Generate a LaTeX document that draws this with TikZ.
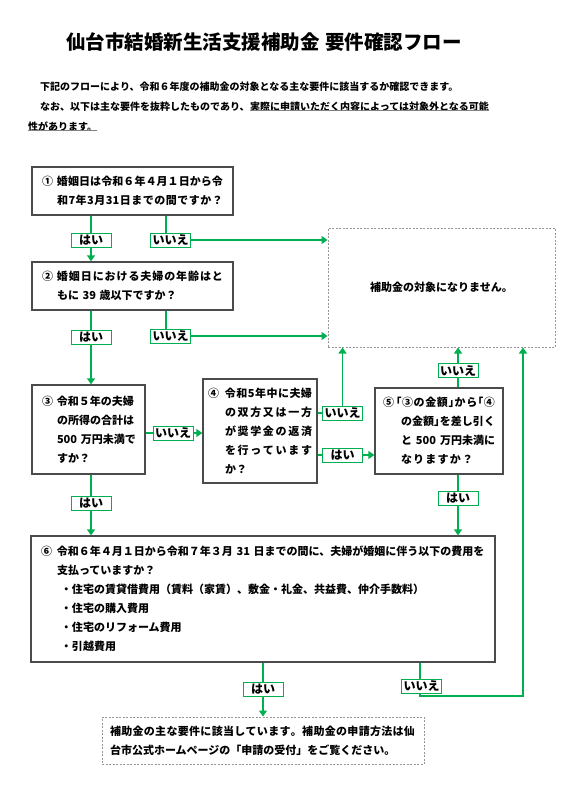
\documentclass[tikz,border=0pt]{standalone}
\usepackage{fontspec}
\setmainfont{Noto Sans CJK JP}
\newfontfamily\jph{Noto Sans CJK JP}[RawFeature=+halt]
\usetikzlibrary{arrows.meta}
\definecolor{grn}{RGB}{0,176,80}
\definecolor{bord}{RGB}{75,75,75}
\definecolor{dashc}{RGB}{150,150,150}
\definecolor{ulc}{RGB}{130,130,130}
\makeatletter
\newcommand\jl[2]{\leavevmode\hbox to #1{\@tempswafalse\@tfor\jx:=#2\do{\if@tempswa\hfil\fi\@tempswatrue\jx}}}
\makeatother
\newcommand\jnum[2]{\leavevmode\makebox[#1][l]{#2}}
\newcommand\jind[1]{\leavevmode\hspace*{#1}}
\newcommand\hlq{{\jph 「}}
\newcommand\hrq{{\jph 」}}
\tikzset{
  qbox/.style={draw=bord, line width=1.3pt, rectangle, inner ysep=0pt, align=left,
    font=\fontsize{11pt}{19pt}\selectfont\bfseries},
  dbox/.style={draw=dashc, line width=1pt, dash pattern=on 2pt off 1.5pt, rectangle,
    inner ysep=0pt, align=left, font=\fontsize{11pt}{19pt}\selectfont\bfseries},
  lab/.style={draw=grn, line width=1pt, fill=white, minimum width=40pt, minimum height=14pt,
    inner sep=0pt, font=\fontsize{12pt}{12pt}\selectfont\bfseries},
  para/.style={inner sep=0pt, anchor=west, font=\fontsize{10pt}{12pt}\selectfont\bfseries},
  ul/.style={draw=ulc, line width=1.1pt},
  gl/.style={draw=grn, line width=1.3pt},
  ga/.style={gl, -{Triangle[width=8pt,length=6pt]}},
}
\begin{document}
\begin{tikzpicture}[x=1pt,y=-1pt]
\fill[white] (0,0) rectangle (579,800);
\useasboundingbox (0,0) rectangle (579,800);

% title and introduction
\node[inner sep=0pt, font=\fontsize{19.5pt}{20pt}\selectfont\bfseries] (title) at (264,42)
  {仙台市結婚新生活支援補助金\hspace{6pt}要件確認フロー};
\node[para] (p1) at (40,87) {下記のフローにより、令和６年度の補助金の対象となる主な要件に該当するか確認できます。};
\node[para] (p2a) at (40,107) {なお、以下は主な要件を抜粋したものであり、};
\node[para] (p2b) at (p2a.east) {実際に申請いただく内容によっては対象外となる可能};
\node[para] (p3) at (28,127) {性があります。};
\draw[ul] ([yshift=1.5pt]p2b.south west) -- ([yshift=1.5pt]p2b.south east);
\draw[ul] ([yshift=1.5pt]p3.south west) -- ([yshift=1.5pt]p3.south east);

% question boxes
\node[qbox, minimum width=201pt, minimum height=48pt, inner xsep=10pt, text width=181pt] (q1) at (132.5,191)
  {\jnum{15pt}{①}\jl{166pt}{婚姻日は令和６年４月１日から令}\\\jind{15pt}\jl{166pt}{和7年3月{31}日までの間ですか？}};
\node[qbox, minimum width=201pt, minimum height=48pt, inner xsep=10pt, text width=181pt] (q2) at (132.5,286)
  {\jnum{15pt}{②}\jl{166pt}{婚姻日における夫婦の年齢はと}\\\jind{15pt}\mbox{もに 39 歳以下ですか？}};
\node[qbox, minimum width=113pt, minimum height=89pt, inner xsep=10pt, text width=93pt] (q3) at (88.5,429.5)
  {\jnum{15pt}{③}令和５年の夫婦\\\jind{15pt}の所得の合計は\\\jind{15pt}\mbox{500 万円未満で}\\\jind{15pt}すか？};
\node[qbox, minimum width=114pt, minimum height=104pt, inner xsep=5pt, text width=104pt] (q4) at (260,431)
  {\jnum{17pt}{④}\jl{87pt}{令和5年中に夫婦}\\\jind{17pt}\jl{87pt}{の双方又は一方}\\\jind{17pt}\jl{87pt}{が奨学金の返済}\\\jind{17pt}\jl{87pt}{を行っています}\\\jind{17pt}か？};
\node[qbox, minimum width=128pt, minimum height=86pt, inner xsep=8pt, text width=112pt] (q5) at (439,431)
  {\jnum{13pt}{⑤}\jl{99pt}{\hlq ③の金額\hrq から\hlq ④}\\\jind{18pt}\jl{94pt}{の金額\hrq を差し引く}\\\jind{18pt}\hbox to 94pt{と\hfil 500\hfil 万円未満に}\\\jind{18pt}\jl{72pt}{なりますか？}};
\node[qbox, minimum width=464pt, minimum height=126pt, inner xsep=10pt, text width=444pt] (q6) at (263,599)
  {\jnum{16pt}{⑥}\mbox{令和６年４月１日から令和７年３月 31 日までの間に、夫婦が婚姻に伴う以下の費用を}\\
   \jind{16pt}支払っていますか？\\
   \jind{20pt}・住宅の賃貸借費用（賃料（家賃）、敷金・礼金、共益費、仲介手数料）\\
   \jind{20pt}・住宅の購入費用\\
   \jind{20pt}・住宅のリフォーム費用\\
   \jind{20pt}・引越費用};

% result boxes
\node[dbox, minimum width=227pt, minimum height=119pt, align=center] (no) at (441.5,287.5) {補助金の対象になりません。};
\node[dbox, minimum width=322pt, minimum height=47pt, inner xsep=8pt, text width=306pt] (fin) at (263,740.5)
  {\jl{305pt}{補助金の主な要件に該当しています。補助金の申請方法は仙}\\台市公式ホームページの「申請の受付」をご覧ください。};

% answer labels
\node[lab] (l1y) at (91,240) {はい};
\node[lab] (l1n) at (170.5,240) {いいえ};
\node[lab] (l2y) at (91,337) {はい};
\node[lab] (l2n) at (170.5,336) {いいえ};
\node[lab] (l3n) at (173,433) {いいえ};
\node[lab] (l3y) at (91,503) {はい};
\node[lab] (l4n) at (342.5,413) {いいえ};
\node[lab] (l4y) at (342.5,455) {はい};
\node[lab] (l5n) at (458,370.5) {いいえ};
\node[lab] (l5y) at (458,498) {はい};
\node[lab] (l6y) at (263,689.5) {はい};
\node[lab] (l6n) at (421.5,686) {いいえ};

% connectors
\coordinate (k1) at (166,0);
\draw[gl] (q1.south -| k1) -- (l1n.north -| k1);
\draw[ga] (l1n.east) -- (l1n.east -| no.west);
\draw[gl] (q1.south -| l1y) -- (l1y.north);
\draw[ga] (l1y.south) -- (q2.north -| l1y);

\draw[gl] (q2.south -| k1) -- (l2n.north -| k1);
\draw[ga] (l2n.east) -- (l2n.east -| no.west);
\draw[gl] (q2.south -| l2y) -- (l2y.north);
\draw[ga] (l2y.south) -- (q3.north -| l2y);

\draw[gl] (q3.east |- l3n) -- (l3n.west);
\draw[ga] (l3n.east) -- (q4.west |- l3n);
\draw[gl] (q3.south -| l3y) -- (l3y.north);
\draw[ga] (l3y.south) -- (q6.north -| l3y);

\draw[gl] (q4.east |- l4n) -- (l4n.west);
\draw[ga] (l4n.north) -- (no.south -| l4n);
\draw[gl] (q4.east |- l4y) -- (l4y.west);
\draw[ga] (l4y.east) -- (q5.west |- l4y);

\draw[gl] (q5.north -| l5n) -- (l5n.south);
\draw[ga] (l5n.north) -- (no.south -| l5n);
\draw[gl] (q5.south -| l5y) -- (l5y.north);
\draw[ga] (l5y.south) -- (q6.north -| l5y);

\draw[gl] (q6.south -| l6y) -- (l6y.north);
\draw[ga] (l6y.south) -- (fin.north -| l6y);
\coordinate (k6) at (420,696);
\coordinate (k7) at (523,696);
\draw[gl] (q6.south -| k6) -- (l6n.north -| k6);
\draw[ga] (l6n.south -| k6) -- (k6) -- (k7) -- (no.south -| k7);
\end{tikzpicture}
\end{document}
